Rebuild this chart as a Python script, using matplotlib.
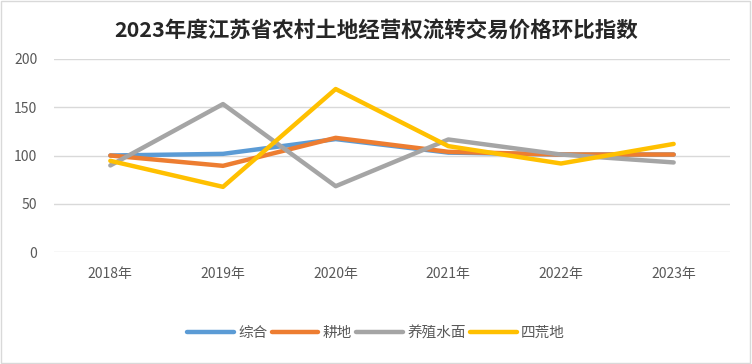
import matplotlib.pyplot as plt
from matplotlib.patches import Rectangle

plt.rcParams['font.family'] = ['Noto Sans CJK SC', 'DejaVu Sans']

years = ['2018年', '2019年', '2020年', '2021年', '2022年', '2023年']
zonghe = [100, 101.7, 117, 103, 101, 101]
gengdi = [100, 89.3, 118.3, 103.8, 101, 101]
yangzhi = [89.7, 153.3, 68.2, 116.6, 101, 92.8]
sihuang = [94.5, 67.5, 168.9, 109.7, 91.7, 112]

series = [
    ('综合', zonghe, '#5B9BD5'),
    ('耕地', gengdi, '#ED7D31'),
    ('养殖水面', yangzhi, '#A5A5A5'),
    ('四荒地', sihuang, '#FFC000'),
]

fig = plt.figure(figsize=(7.52, 3.64), dpi=100)
fig.patches.append(Rectangle((0.001, 0.002), 0.997, 0.995, transform=fig.transFigure,
                             fill=False, edgecolor='#D9D9D9', linewidth=1))

ax = fig.add_axes([54 / 752, 112 / 364, 676 / 752, 193 / 364])
x = list(range(len(years)))
for name, vals, color in series:
    ax.plot(x, vals, color=color, linewidth=3.2, label=name, solid_capstyle='round')

ax.set_xlim(-0.5, len(years) - 0.5)
ax.set_ylim(0, 200)
ax.set_yticks([0, 50, 100, 150, 200])
ax.set_xticks(x)
ax.set_xticklabels(years)
ax.grid(axis='y', color='#D9D9D9', linewidth=1)
ax.set_axisbelow(True)
for s in ax.spines.values():
    s.set_visible(False)
ax.tick_params(length=0, colors='#595959', labelsize=10)
ax.tick_params(axis='x', pad=11)
ax.tick_params(axis='y', pad=12)

fig.text(0.5, 1 - 30 / 364, '2023年度江苏省农村土地经营权流转交易价格环比指数',
         ha='center', va='center', fontsize=15.5, fontweight='bold', color='#262626')

leg = fig.legend(loc='center', bbox_to_anchor=(0.5, 1 - 333 / 364), ncol=4, frameon=False,
                 fontsize=10.5, handlelength=3.2, columnspacing=0.3, handletextpad=0.3,
                 labelcolor='#595959')

fig.savefig('out.png', dpi=100)
